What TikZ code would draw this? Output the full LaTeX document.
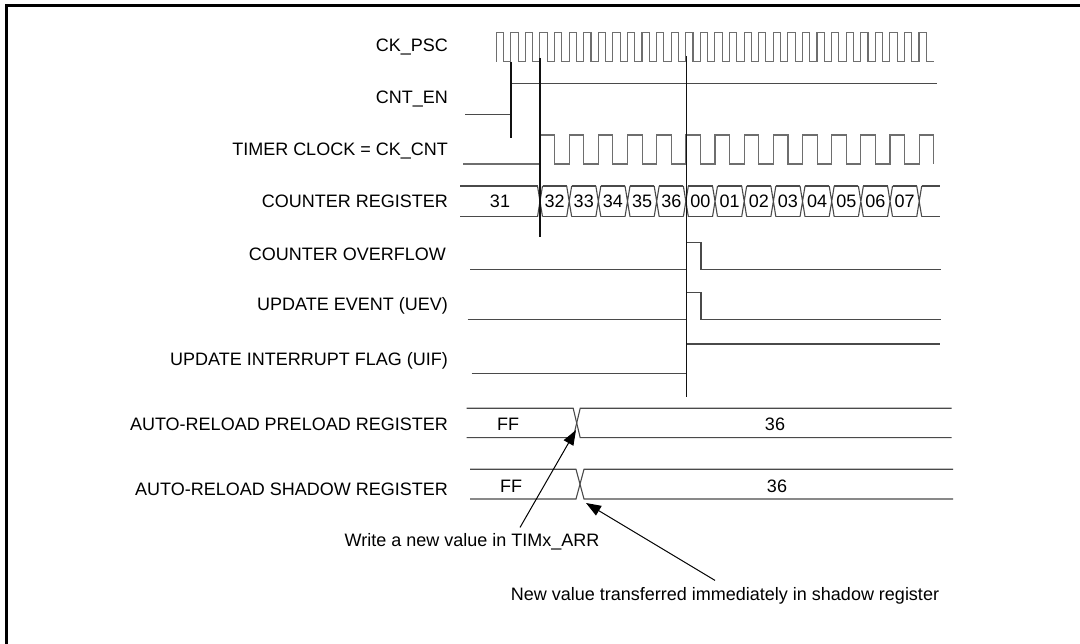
\documentclass[tikz,border=0pt]{standalone}
\usepackage{fontspec}
\setmainfont{Liberation Sans}
\usetikzlibrary{arrows.meta, positioning, calc}
\definecolor{cSig}{HTML}{4A4A4A}
\definecolor{cClk}{HTML}{6E6E6E}
\definecolor{cEdge}{HTML}{111111}

\begin{document}
\begin{tikzpicture}[x=1pt, y=-1pt,
    sig/.style={draw=cSig, line width=1.1pt},
    clk/.style={draw=cClk, line width=1.1pt},
    edgeline/.style={draw=cEdge, line width=1.2pt},
    lbl/.style={font=\fontsize{18}{21}\selectfont, anchor=east, inner sep=0pt},
    val/.style={font=\fontsize{18}{21}\selectfont, inner sep=0pt},
    note/.style={font=\fontsize{18}{21}\selectfont, inner sep=0pt},
    callout/.style={draw=black, line width=1pt, -{Triangle[length=15pt,width=11pt]}}]
  \useasboundingbox (0,0) rectangle (1080,644);
  % outer frame, cut by the page on the right and at the bottom
  \begin{scope}
    \clip (0,0) rectangle (1080,644);
    \draw[line width=3pt] (6,6) rectangle (1100,670);
  \end{scope}

  % signal names
  \node[lbl] (ckpsc) at (448,47)  {CK\_PSC};
  \node[lbl] (cnten) at (448,99)  {CNT\_EN};
  \node[lbl] (ckcnt) at (448,151) {TIMER CLOCK = CK\_CNT};
  \node[lbl] (cntreg) at (448,201) {COUNTER REGISTER};
  \node[lbl] (ovf)   at (446,254) {COUNTER OVERFLOW};
  \node[lbl] (uev)   at (448,306) {UPDATE EVENT (UEV)};
  \node[lbl] (uif)   at (448,361) {UPDATE INTERRUPT FLAG (UIF)};
  \node[lbl] (arrpre) at (448,424) {AUTO-RELOAD PRELOAD REGISTER};
  \node[lbl] (arrsh) at (448,489) {AUTO-RELOAD SHADOW REGISTER};

  % CK_PSC
  \draw[clk] (496.2,61.7) \foreach \k in {0,...,29}{
      -- ++(0,-29) -- ++(7.29,0) -- ++(0,29) -- ++(7.29,0)};
  % CNT_EN
  \draw[sig] (465,114.3) -- (511,114.3);
  \draw[sig] (511,83.3) -- (937,83.3);
  % TIMER CLOCK
  \draw[clk] (463,164) -- (540,164) \foreach \k in {0,...,12}{
      -- ++(0,-29) -- ++(14.6,0) -- ++(0,29) -- ++(14.57,0)}
      -- ++(0,-29) -- ++(14.6,0) -- ++(0,29);

  % COUNTER REGISTER
  \draw[sig] (460,186) -- (537.5,186) (460,216.7) -- (537.5,216.7);
  \node[val] (c31) at (500,201.3) {31};
  \foreach \k in {0,...,13}{
    \pgfmathsetmacro{\t}{540+29.17*\k}
    \draw[sig] (\t-2.5,186) -- (\t+2.5,216.7) (\t-2.5,216.7) -- (\t+2.5,186);
  }
  \foreach \v [count=\k from 0] in {32,33,34,35,36,00,01,02,03,04,05,06,07}{
    \pgfmathsetmacro{\t}{540+29.17*\k}
    \draw[sig] (\t+2.5,186) -- (\t+26.67,186) (\t+2.5,216.7) -- (\t+26.67,216.7);
    \node[val] (c\k) at (\t+14.58,201.3) {\v};
  }
  \draw[sig] (921.7,186) -- (940,186) (921.7,216.7) -- (940,216.7);

  % COUNTER OVERFLOW, UEV, UIF
  \draw[sig] (470,269.3) -- (686.7,269.3) -- (686.7,242.7) -- (701,242.7)
             -- (701,269.3) -- (941,269.3);
  \draw[sig] (467.7,319.3) -- (686.7,319.3) -- (686.7,292.3) -- (701,292.3)
             -- (701,319.3) -- (941,319.3);
  \draw[sig] (471.7,373.3) -- (686.7,373.3) -- (686.7,344) -- (940,344);

  % edges
  \draw[edgeline] (511,61.7) -- (511,138);
  \draw[edgeline] (540,58) -- (540,237);
  \draw[edgeline] (686.7,56) -- (686.7,397);

  % auto-reload registers
  \draw[sig] (466.7,408.3) -- (573.2,408.3) -- (580.2,437.7) -- (951.7,437.7);
  \draw[sig] (466.7,437.7) -- (573.2,437.7) -- (580.2,408.3) -- (951.7,408.3);
  \node[val] (preff) at (508,424) {FF};
  \node[val] (pre36) at (775,424) {36};
  \draw[sig] (470,469.3) -- (576,469.3) -- (584,499) -- (953,499);
  \draw[sig] (470,499) -- (576,499) -- (584,469.3) -- (953,469.3);
  \node[val] (shff) at (511,486) {FF};
  \node[val] (sh36) at (777,486) {36};

  % notes
  \coordinate (prex) at (576,430);
  \coordinate (shx)  at (586,503);
  \node[note] (wrnote) at (472,542) {Write a new value in TIMx\_ARR};
  \node[note] (tfnote) at (725,596) {New value transferred immediately in shadow register};
  \draw[callout] ([xshift=48pt,yshift=6pt]wrnote.north) -- (prex);
  \draw[callout] ([xshift=-10pt,yshift=7pt]tfnote.north) -- (shx);
\end{tikzpicture}
\end{document}
